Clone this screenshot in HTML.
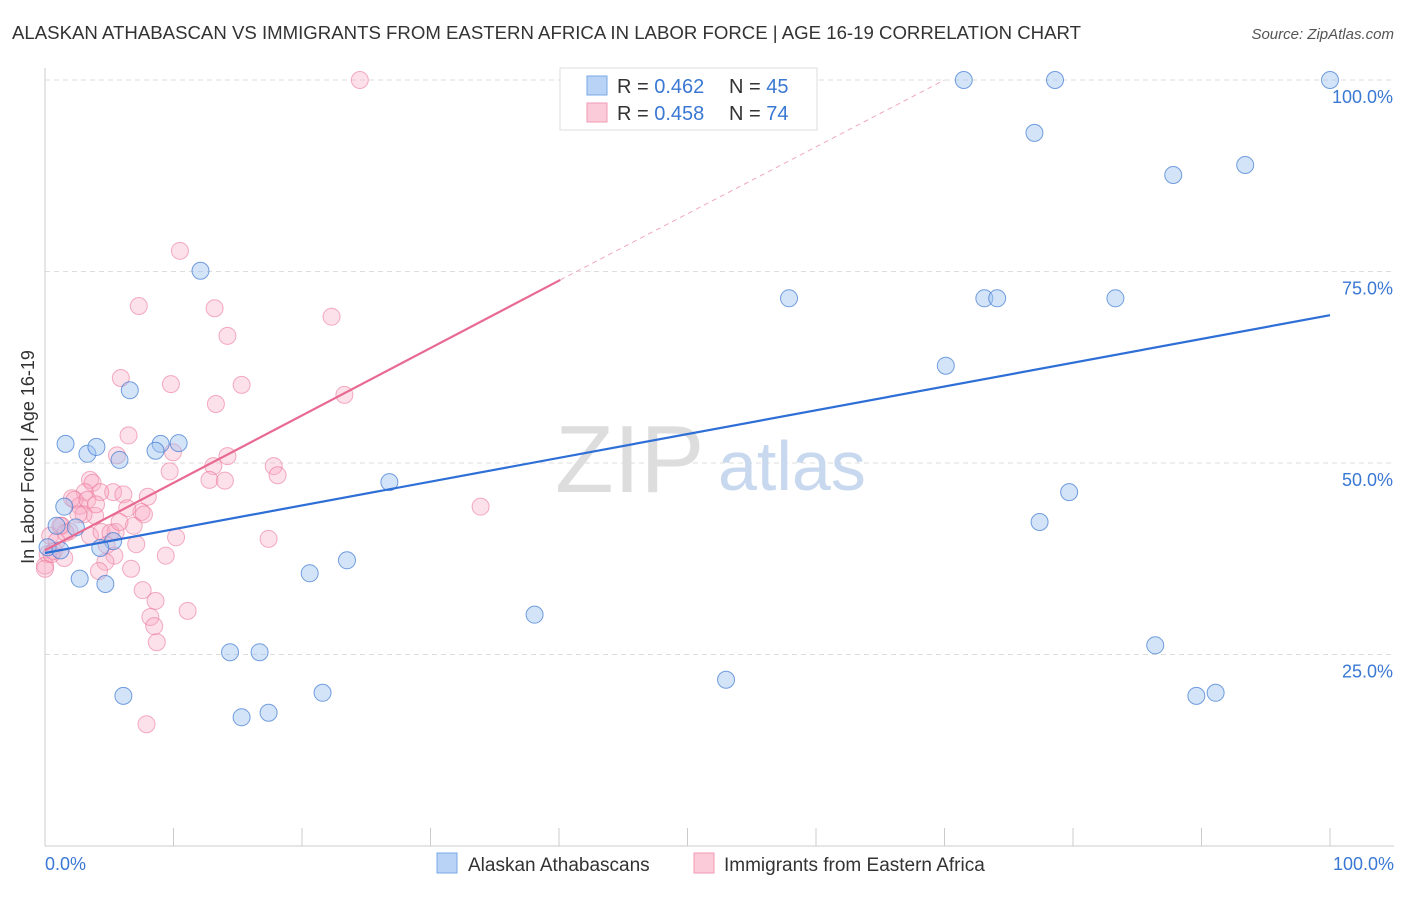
<!DOCTYPE html>
<html><head><meta charset="utf-8"><style>
body{margin:0;background:#fff;font-family:"Liberation Sans",sans-serif;}
svg text{font-family:"Liberation Sans",sans-serif;}
</style></head><body>
<svg width="1406" height="892" xmlns="http://www.w3.org/2000/svg">
<text x="12" y="39" font-size="18" fill="#333" textLength="1069" lengthAdjust="spacingAndGlyphs">ALASKAN ATHABASCAN VS IMMIGRANTS FROM EASTERN AFRICA IN LABOR FORCE | AGE 16-19 CORRELATION CHART</text>
<text x="1394" y="39" font-size="15" fill="#555" text-anchor="end" font-style="italic">Source: ZipAtlas.com</text>
<g id="grid"></g>
<text x="555" y="492" font-size="96" fill="#ddd" font-family="Liberation Serif">ZIP</text>
<text x="718" y="490" font-size="70" fill="#c8d8ee">atlas</text>
<g id="marks"></g>
<text transform="translate(34,457) rotate(-90)" font-size="18" fill="#333" text-anchor="middle">In Labor Force | Age 16-19</text>
<text x="45" y="870" font-size="18" fill="#3a78d4">0.0%</text>
<text x="1394" y="870" font-size="18" fill="#3a78d4" text-anchor="end">100.0%</text>
<g>
<rect x="560" y="68" width="257" height="62" fill="#fff" stroke="#ddd"/>
<rect x="587" y="76" width="20" height="19" fill="#b8d3f5" stroke="#7aa8e8"/>
<rect x="587" y="103" width="20" height="19" fill="#fbcbd9" stroke="#f09ab3"/>
<text x="617" y="93" font-size="20" fill="#333">R = <tspan fill="#3a78d4">0.462</tspan></text>
<text x="729" y="93" font-size="20" fill="#333">N = <tspan fill="#3a78d4">45</tspan></text>
<text x="617" y="120" font-size="20" fill="#333">R = <tspan fill="#3a78d4">0.458</tspan></text>
<text x="729" y="120" font-size="20" fill="#333">N = <tspan fill="#3a78d4">74</tspan></text>
</g>
<g>
<rect x="437" y="853" width="20" height="20" fill="#b8d3f5" stroke="#7aa8e8"/>
<text x="468" y="871" font-size="19" fill="#333">Alaskan Athabascans</text>
<rect x="694" y="853" width="20" height="20" fill="#fbcbd9" stroke="#f09ab3"/>
<text x="724" y="871" font-size="19" fill="#333">Immigrants from Eastern Africa</text>
</g>
</svg>
<script>
const yTicks=[25,50,75,100];
const yTickLabels=["25.0%","50.0%","75.0%","100.0%"];
const blueX=[71.5,78.6,100,77,87.8,93.4,12.1,57.9,73.1,74.1,83.3,70.1,6.6,9,10.4,8.6,3.3,5.8,26.8,1.6,4,79.7,1.5,2.4,0.9,77.4,5.3,4.3,0.2,20.6,23.5,2.7,4.7,38.1,86.4,14.4,16.7,53,6.1,21.6,89.6,91.1,15.3,17.4,1.2];
const blueY=[100,100,100,93.1,87.6,88.9,75.1,71.5,71.5,71.5,71.5,62.7,59.5,52.5,52.6,51.6,51.2,50.4,47.5,52.5,52.1,46.2,44.3,41.6,41.8,42.3,39.8,38.9,39,35.6,37.3,34.9,34.2,30.2,26.2,25.3,25.3,21.7,19.6,20,19.6,20,16.8,17.4,38.6];
const pinkX=[24.5,10.5,7.3,13.2,22.3,14.2,5.9,9.8,15.3,13.3,23.3,6.5,5.6,9.96,14.2,9.7,13.1,17.8,18.1,12.8,14,3.5,3.7,3.1,5.3,8,2.1,4.3,2.7,2.3,6.1,3.3,33.9,7.5,6.4,7.7,3.9,3,1.3,1.9,3.5,0.4,0.9,6.9,4.4,5.5,10.2,17.4,7.1,4.8,0.2,0.7,1.5,9.4,5.4,0,4.7,4.2,6.7,7.6,8.6,11.1,8.2,8.5,8.7,7.9,0,1.2,2.6,5.1,3.97,1.6,0.5,5.8];
const pinkY=[100,77.7,70.5,70.2,69.1,66.6,61.1,60.3,60.2,57.7,58.9,53.6,51,51.4,50.9,48.9,49.6,49.6,48.4,47.8,47.7,47.8,47.4,46.2,46.2,45.6,45.4,46.2,44.4,45.2,45.9,45.2,44.3,43.6,44.1,43.3,43.1,43.3,41.8,41.1,40.5,40.5,39.8,41.8,41,41,40.3,40.1,39.4,39.3,38.1,38.5,37.6,37.9,37.9,36.6,37.1,35.9,36.2,33.4,32,30.7,29.9,28.7,26.6,15.9,36.2,41.8,43.3,40.9,44.6,40.9,38.1,42.3];
const blueLine=[[0,38.25],[100,69.3]];
const pinkLine=[[0,38.6],[40.1,73.9]];
const pinkDash=[[40.1,73.9],[70,100]];
const X=v=>45+v*12.85, Y=v=>846-v*7.66;
const NS="http://www.w3.org/2000/svg";
const grid=document.getElementById('grid'), marks=document.getElementById('marks');
function mk(tag,attrs,parent){const e=document.createElementNS(NS,tag);for(const k in attrs)e.setAttribute(k,attrs[k]);parent.appendChild(e);return e;}
yTicks.forEach((t,i)=>{
  const l=mk('line',{x1:45,x2:1394,y1:Y(t),y2:Y(t),stroke:'#ddd','stroke-dasharray':'5,4'},grid);
  
  
  const tx=mk('text',{x:1393,y:Y(t)+23,'font-size':18,fill:'#3a78d4','text-anchor':'end'},grid);
  tx.textContent=yTickLabels[i];
  
  
});
const ax=mk('line',{x1:45,x2:1394,y1:846,y2:846,stroke:'#ccc'},grid);


const ay=mk('line',{x1:45,x2:45,y1:68,y2:846,stroke:'#ccc'},grid);


for(let i=0;i<=10;i++){
  const t=mk('line',{x1:X(i*10),x2:X(i*10),y1:828,y2:846,stroke:'#ccc'},grid);
  
  
}
pinkX.forEach((v,i)=>{
  const c=mk('circle',{cx:X(v),cy:Y(pinkY[i]),r:8.5,fill:'rgba(248,170,195,0.35)',stroke:'rgba(235,120,155,0.6)','stroke-width':1},marks);
  
  
});
blueX.forEach((v,i)=>{
  const c=mk('circle',{cx:X(v),cy:Y(blueY[i]),r:8.5,fill:'rgba(160,195,240,0.45)',stroke:'rgba(60,120,210,0.7)','stroke-width':1},marks);
  
  
});
const bl=mk('line',{x1:X(blueLine[0][0]),y1:Y(blueLine[0][1]),x2:X(blueLine[1][0]),y2:Y(blueLine[1][1]),stroke:'#2d6fd6','stroke-width':2.2},marks);


const pl=mk('line',{x1:X(pinkLine[0][0]),y1:Y(pinkLine[0][1]),x2:X(pinkLine[1][0]),y2:Y(pinkLine[1][1]),stroke:'#e86a92','stroke-width':2.2},marks);


const pd=mk('line',{x1:X(pinkDash[0][0]),y1:Y(pinkDash[0][1]),x2:X(pinkDash[1][0]),y2:Y(pinkDash[1][1]),stroke:'#f0a8be','stroke-width':1,'stroke-dasharray':'5,4'},marks);


</script>
</body></html>
